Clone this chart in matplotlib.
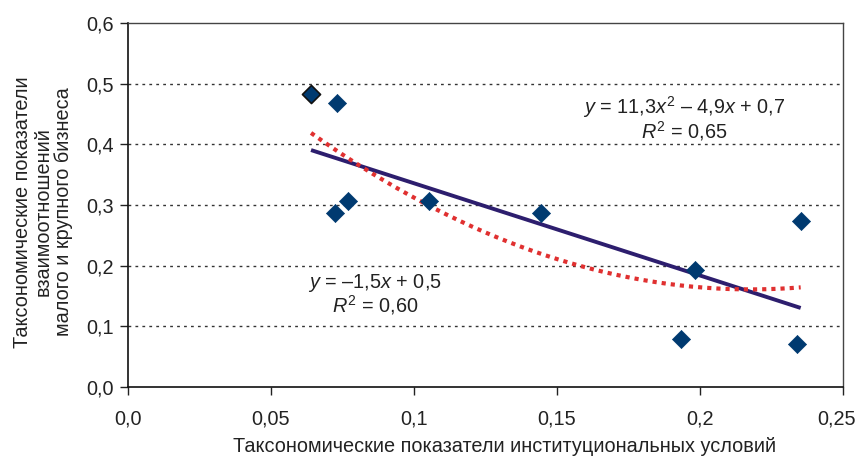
import numpy as np
import matplotlib
matplotlib.use("Agg")
import matplotlib.pyplot as plt
from matplotlib.transforms import ScaledTranslation

plt.rcParams['font.family'] = ['Liberation Sans', 'DejaVu Sans']
plt.rcParams['mathtext.fontset'] = 'custom'
plt.rcParams['mathtext.rm'] = 'Liberation Sans'
plt.rcParams['mathtext.it'] = 'Liberation Sans:italic'

x_vals = [0.0640, 0.0731, 0.0724, 0.0769, 0.1052, 0.1444, 0.1983, 0.1932, 0.2352, 0.2338]
y_vals = [0.483, 0.468, 0.287, 0.307, 0.307, 0.287, 0.193, 0.0786, 0.274, 0.0709]
x_ticks = [0.0, 0.05, 0.1, 0.15, 0.2, 0.25]
x_tick_labels = ["0,0", "0,05", "0,1", "0,15", "0,2", "0,25"]
y_ticks = [0.0, 0.1, 0.2, 0.3, 0.4, 0.5, 0.6]
y_tick_labels = ["0,0", "0,1", "0,2", "0,3", "0,4", "0,5", "0,6"]
xlabel = "Таксономические показатели институциональных условий"
ylabel = "Таксономические показатели\nвзаимоотношений\nмалого и крупного бизнеса"
eq_poly = "$y$ = 11,3$x^2$ – 4,9$x$ + 0,7\n$R^2$ = 0,65"
eq_lin = "$y$ = –1,5$x$ + 0,5\n$R^2$ = 0,60"

x = np.array(x_vals)
y = np.array(y_vals)

FS = 14.3

fig = plt.figure(figsize=(8.57, 4.59), dpi=100)
ax = fig.add_axes([128/857, 1-387/459, (843-128)/857, (387-23)/459])

ax.set_xlim(0, 0.25)
ax.set_ylim(0, 0.6)

for v in y_ticks[1:-1]:
    ax.axhline(v, color='#333333', lw=1.0, ls=(0, (2, 3)), zorder=1)

xs = np.linspace(x.min(), x.max(), 200)
lin = np.polyfit(x, y, 1)
quad = np.polyfit(x, y, 2)
ax.plot(xs, np.polyval(lin, xs), color='#2d1e6e', lw=2.8, zorder=3, solid_capstyle='butt')
ax.plot(xs, np.polyval(quad, xs), color='#e03030', lw=3.0, ls=(0, (1, 1.2)), zorder=3)

ax.scatter(x[1:], y[1:], marker='D', s=85, color='#003a70', edgecolor='#003a70', lw=0.5, zorder=4)
ax.scatter(x[:1], y[:1], marker='D', s=85, color='#003a70', edgecolor='#111111', lw=1.2, zorder=4)

ax.set_xticks(x_ticks)
ax.set_xticklabels(x_tick_labels)
ax.set_yticks(y_ticks)
ax.set_yticklabels(y_tick_labels)
ax.tick_params(axis='both', direction='out', length=6, width=1, labelsize=FS, colors='#222222')
ax.tick_params(axis='x', pad=10)
ax.tick_params(axis='y', pad=4)

last = ax.get_xticklabels()[-1]
last.set_transform(last.get_transform() + ScaledTranslation(-7/100, 0, fig.dpi_scale_trans))

for s in ['left', 'bottom']:
    ax.spines[s].set_color('#111111')
    ax.spines[s].set_linewidth(1.2)
for s in ['top', 'right']:
    ax.spines[s].set_color('#444444')
    ax.spines[s].set_linewidth(1.0)

ax.text(0.1944, 0.4426, eq_poly, ha='center', va='center', fontsize=FS, color='#222222', linespacing=0.95)
ax.text(0.0864, 0.153, eq_lin, ha='center', va='center', fontsize=FS, color='#222222', linespacing=0.95)

fig.text(505/857, 1-447/459, xlabel, ha='center', va='center', fontsize=FS, color='#222222')
fig.text(43/857, 1-212/459, ylabel, ha='center', va='center', rotation=90, fontsize=FS,
         color='#222222', linespacing=1.1, multialignment='center')

fig.savefig("out.png", dpi=100, facecolor='white')
